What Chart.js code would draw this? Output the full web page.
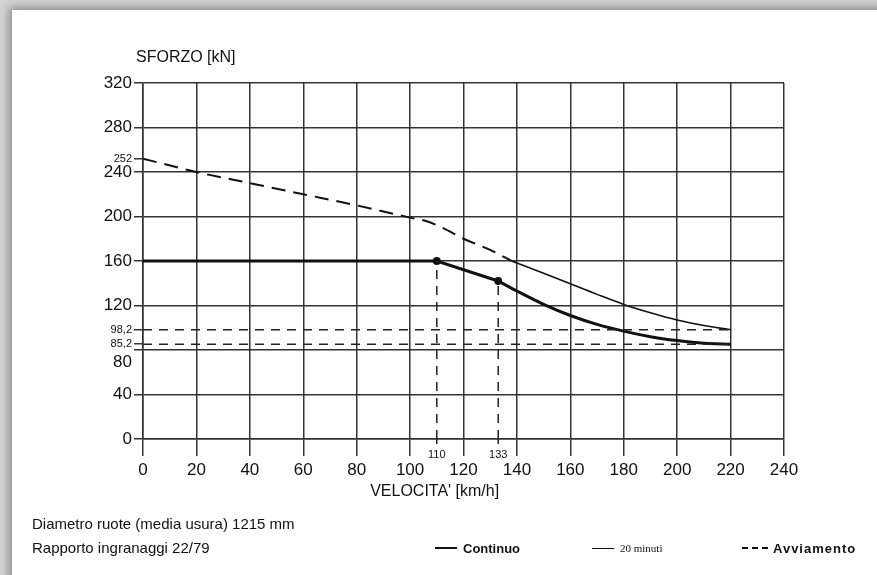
<!DOCTYPE html>
<html>
<head>
<meta charset="utf-8">
<script src="https://cdn.jsdelivr.net/npm/chart.js@4.4.0/dist/chart.umd.min.js"></script>
<style>
    html, body { margin: 0; padding: 0; width: 877px; height: 575px; overflow: hidden; background: #d4d4d4; }
    #paper { position: absolute; left: 12px; top: 10px; width: 900px; height: 600px; background: #fff;
             box-shadow: -3px -3px 9px rgba(0,0,0,.35); }
    #wrap { position: absolute; left: 0; top: 0; width: 877px; height: 575px; }
    .nota { position: absolute; left: 32px; font: 15px "Liberation Sans", Arial, sans-serif; color: #111; white-space: nowrap; }
    .leg { position: absolute; top: 540px; height: 16px; display: flex; align-items: center; color: #111; white-space: nowrap; }
    .leg i { display: inline-block; width: 22px; margin-right: 6px; }
    .b { font: bold 13px "Liberation Sans", Arial, sans-serif; }
    .s { font: 11px "Liberation Serif", serif; }
</style>
</head>
<body>
<div id="paper"></div>
<div id="wrap"><canvas id="grafico" width="877" height="575"></canvas></div>
<div class="nota" style="top:515px">Diametro ruote (media usura) 1215 mm</div>
<div class="nota" style="top:539px">Rapporto ingranaggi 22/79</div>
<div class="leg b" style="left:435px"><i style="border-top:2.5px solid #111"></i>Continuo</div>
<div class="leg s" style="left:592px"><i style="border-top:1.5px solid #111"></i>20 minuti</div>
<div class="leg b" style="left:742px;letter-spacing:1px"><i style="border-top:2px dashed #111;width:26px;margin-right:5px"></i>Avviamento</div>

<script>
// assi
const velocitaTicks = [0, 20, 40, 60, 80, 100, 120, 140, 160, 180, 200, 220, 240];
const sforzoTicks = [0, 40, 80, 120, 160, 200, 240, 280, 320];
const sforzoSegni = [252, 98.2, 85.2];   // etichette piccole sull'asse y
const velocitaSegni = [110, 133];        // etichette piccole sull'asse x

// Continuo: tratto rettilineo fino a 133 km/h, poi curva
const continuoV = [0, 110, 133];
const continuoF = [160, 160, 142];
const continuoCurvaV = [133, 140, 150, 160, 170, 180, 190, 200, 210, 220];
const continuoCurvaF = [142, 133, 121, 111, 103, 97, 92, 88.5, 86, 85.2];

// 20 minuti
const minutiV = [138, 140, 150, 160, 170, 180, 190, 200, 210, 220];
const minutiF = [160, 158.3, 149, 139.5, 130, 121, 113.5, 107, 102, 98.2];

// Avviamento
const avviamentoV = [0, 20, 40, 60, 80, 100, 106, 112, 120, 130, 138];
const avviamentoF = [252, 240, 230, 220, 210, 199, 196, 190, 180, 170, 160];

const punti = (xs, ys) => xs.map((v, i) => ({ x: v, y: ys[i] }));
const vMax = continuoCurvaV[continuoCurvaV.length - 1];

// linee di riferimento tratteggiate
const rifOrizz = [sforzoSegni[1], sforzoSegni[2]].map(f => [{ x: 0, y: f }, { x: vMax, y: f }]);
const rifVert = velocitaSegni.map(v => {
    const i = continuoV.indexOf(v);
    return [{ x: v, y: 0 }, { x: v, y: continuoF[i] }];
});

const isSegnoY = c => !!(c && c.tick) && sforzoSegni.includes(c.tick.value);

Chart.defaults.font.family = '"Liberation Sans", Arial, sans-serif';
Chart.defaults.color = '#111';

const scritte = {
    id: 'scritte',
    afterDraw(chart) {
        const { ctx, scales: { x, y } } = chart;
        ctx.save();
        ctx.fillStyle = '#111';
        ctx.textBaseline = 'middle';
        ctx.font = '16px "Liberation Sans", Arial, sans-serif';
        ctx.fillText('SFORZO [kN]', x.left - 7, 58);
        ctx.textAlign = 'center';
        ctx.fillText("VELOCITA' [km/h]", x.left + (x.right - x.left) * 0.455, 492);
        // segni piccoli sotto l'asse x
        ctx.font = '11px "Liberation Sans", Arial, sans-serif';
        ctx.strokeStyle = '#222';
        ctx.lineWidth = 1.5;
        ctx.setLineDash([5, 4]);
        velocitaSegni.forEach(v => {
            const px = x.getPixelForValue(v);
            ctx.beginPath();
            ctx.moveTo(px, y.bottom);
            ctx.lineTo(px, y.bottom + 9);
            ctx.stroke();
            ctx.fillText(String(v), px, y.bottom + 16);
        });
        ctx.restore();
    }
};

const lineaRif = (data) => ({
    data: data, borderColor: '#222', borderWidth: 1.5, borderDash: [9, 7],
    pointRadius: 0, tension: 0
});

new Chart(document.getElementById('grafico'), {
    type: 'line',
    data: {
        datasets: [
            ...rifOrizz.map(lineaRif),
            ...rifVert.map(lineaRif),
            {
                label: 'Avviamento',
                data: punti(avviamentoV, avviamentoF),
                borderColor: '#111', borderWidth: 2, borderDash: [14, 8],
                pointRadius: 0, cubicInterpolationMode: 'monotone'
            },
            {
                label: '20 minuti',
                data: punti(minutiV, minutiF),
                borderColor: '#111', borderWidth: 1.6,
                pointRadius: 0, cubicInterpolationMode: 'monotone'
            },
            {
                label: 'Continuo',
                data: punti(continuoV, continuoF),
                borderColor: '#111', borderWidth: 3, tension: 0,
                pointRadius: ctx => (ctx.raw && velocitaSegni.includes(ctx.raw.x)) ? 4 : 0,
                pointBackgroundColor: '#111', pointBorderWidth: 0
            },
            {
                label: 'Continuo',
                data: punti(continuoCurvaV, continuoCurvaF),
                borderColor: '#111', borderWidth: 3,
                pointRadius: 0, cubicInterpolationMode: 'monotone'
            }
        ]
    },
    options: {
        responsive: false,
        animation: false,
        devicePixelRatio: 1,
        layout: { padding: { top: 83, right: 93, bottom: 86, left: 0 } },
        plugins: { legend: { display: false }, tooltip: { enabled: false } },
        scales: {
            x: {
                type: 'linear', min: 0, max: 240,
                afterBuildTicks: s => { s.ticks = velocitaTicks.map(v => ({ value: v })); },
                afterFit: s => { s.height = 50; },
                ticks: { autoSkip: false, maxRotation: 0, padding: 4, font: { size: 17 } },
                grid: { color: '#333', lineWidth: 1.5, tickLength: 17 },
                border: { color: '#333', width: 1.5 }
            },
            y: {
                type: 'linear', min: 0, max: 320,
                afterBuildTicks: s => {
                    s.ticks = [...sforzoTicks, ...sforzoSegni].sort((a, b) => a - b).map(v => ({ value: v }));
                },
                afterFit: s => { s.width = 143; },
                ticks: {
                    autoSkip: false, padding: 2,
                    font: c => isSegnoY(c) ? { size: 11 } : { size: 17, lineHeight: 1.4 },
                    callback: v => {
                        if (v === 80) return ['', '80'];
                        return String(v).replace('.', ',');
                    }
                },
                grid: {
                    color: c => isSegnoY(c) ? 'rgba(0,0,0,0)' : '#333',
                    tickColor: '#333', lineWidth: 1.5, tickLength: 9
                },
                border: { color: '#333', width: 1.5 }
            }
        }
    },
    plugins: [scritte]
});
</script>
</body>
</html>
